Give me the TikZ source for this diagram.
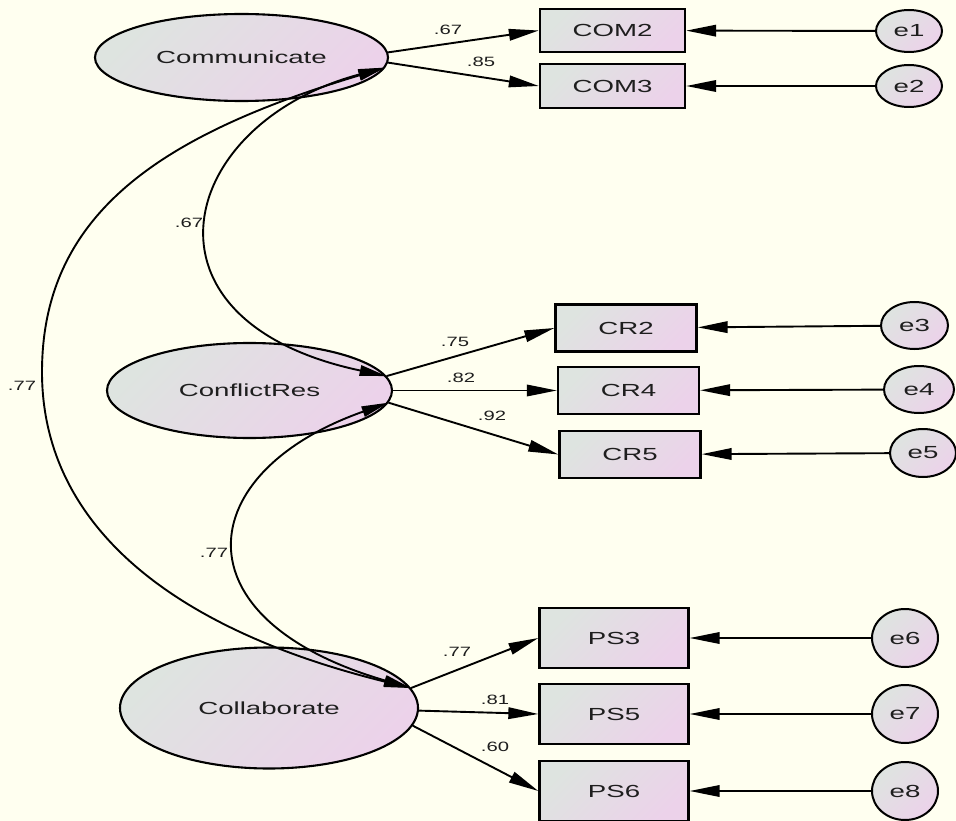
\documentclass[tikz,border=0pt]{standalone}
\usepackage{fontspec}
\setmainfont{Liberation Sans}
\usepackage{graphicx}
\usetikzlibrary{arrows.meta,shapes.geometric}

\definecolor{paper}{RGB}{255,255,240}
\definecolor{fillL}{RGB}{222,228,224}
\definecolor{fillR}{RGB}{236,210,234}
\definecolor{ink}{RGB}{30,30,30}

% horizontally widened text, as the model program prints it
\newcommand{\wtext}[2][1.58]{\scalebox{#1}[1]{#2}}

\begin{document}
\begin{tikzpicture}[x=1pt,y=-1pt,
  shaded/.style={left color=fillL, right color=fillR, shading angle=45,
    text=ink, font=\fontsize{17.5}{20}\selectfont},
  latent/.style={ellipse, draw, line width=2.1pt, inner sep=0pt, shaded},
  observed/.style={rectangle, draw, line width=2.3pt, inner sep=0pt, shaded},
  errvar/.style={ellipse, draw, line width=2pt, inner sep=0pt, shaded},
  regpath/.style={line width=1.9pt, -{Triangle[length=30pt,width=11.5pt]}},
  cov/.style={line width=1.9pt,
    {Triangle[length=27pt,width=10.5pt]}-{Triangle[length=27pt,width=10.5pt]}},
  coef/.style={font=\fontsize{13.5}{16}\selectfont, text=ink, inner sep=0pt}
]
% canvas
\fill[paper] (0,0) rectangle (956,821);
\useasboundingbox (0,0) rectangle (956,821);

% latent factors
\node[latent, minimum width=293pt, minimum height=87pt] (Com) at (241.5,57.5) {\wtext{Communicate}};
\node[latent, minimum width=285pt, minimum height=95pt] (CR) at (249.5,390.5) {\wtext{ConflictRes}};
\node[latent, minimum width=298pt, minimum height=121pt] (Col) at (269,708) {\wtext{Collaborate}};

% indicators
\node[observed, minimum width=145pt, minimum height=43pt] (COM2) at (612.5,30.5) {\wtext{COM2}};
\node[observed, minimum width=145pt, minimum height=44pt] (COM3) at (612.5,86) {\wtext{COM3}};
\node[observed, minimum width=141pt, minimum height=47pt] (CR2) at (626,328) {\wtext{CR2}};
\node[observed, minimum width=141pt, minimum height=47pt] (CR4) at (628.5,390.5) {\wtext{CR4}};
\node[observed, minimum width=141pt, minimum height=47pt] (CR5) at (630,454.5) {\wtext{CR5}};
\node[observed, minimum width=149pt, minimum height=60pt] (PS3) at (614,638) {\wtext{PS3}};
\node[observed, minimum width=149pt, minimum height=60pt] (PS5) at (614,714) {\wtext{PS5}};
\node[observed, minimum width=149pt, minimum height=60pt] (PS6) at (614,791) {\wtext{PS6}};

% error terms
\node[errvar, minimum width=66pt, minimum height=42pt] (e1) at (909,31) {\wtext{e1}};
\node[errvar, minimum width=66pt, minimum height=42pt] (e2) at (909,86) {\wtext{e2}};
\node[errvar, minimum width=67pt, minimum height=47pt] (e3) at (914.5,325.5) {\wtext{e3}};
\node[errvar, minimum width=70pt, minimum height=47pt] (e4) at (919,389.5) {\wtext{e4}};
\node[errvar, minimum width=66pt, minimum height=48pt] (e5) at (923,453) {\wtext{e5}};
\node[errvar, minimum width=66pt, minimum height=58pt] (e6) at (905,638) {\wtext{e6}};
\node[errvar, minimum width=66pt, minimum height=58pt] (e7) at (905,714) {\wtext{e7}};
\node[errvar, minimum width=66pt, minimum height=58pt] (e8) at (905,791) {\wtext{e8}};

% loadings
\draw[regpath] (Com.2) -- (COM2.west);
\draw[regpath] (Com.-2) -- (COM3.west);
\draw[regpath] (CR.6) -- (CR2.west);
\draw[regpath] (CR.0) -- (CR4.west);
\draw[regpath] (CR.-5) -- (CR5.west);
\draw[regpath] (Col.8) -- (PS3.west);
\draw[regpath] (Col.-1) -- (PS5.west);
\draw[regpath] (Col.-7) -- (PS6.west);

% error paths
\foreach \e/\v in {e1/COM2, e2/COM3, e3/CR2, e4/CR4, e5/CR5, e6/PS3, e7/PS5, e8/PS6}
  \draw[regpath] (\e) -- (\v);

% covariances between factors
\coordinate (bigW) at (42,372);
\draw[cov] (Com.-4) .. controls (177,123) and (126,321) .. (CR.6);
\draw[cov] (CR.-5) .. controls (192,472) and (174,619) .. (Col.8);
\draw[cov] (Com.-4) .. controls (163.9,134) and (42,212) .. (bigW)
                   .. controls (42,522) and (167,628) .. (Col.8);

% standardized estimates
\node[coef] (cCOM2) at (448,30) {\wtext[1.5]{.67}};
\node[coef] (cCOM3) at (481,62) {\wtext[1.5]{.85}};
\node[coef] (cCR2) at (455,342) {\wtext[1.5]{.75}};
\node[coef] (cCR4) at (461,378) {\wtext[1.5]{.82}};
\node[coef] (cCR5) at (492,416) {\wtext[1.5]{.92}};
\node[coef] (cPS3) at (457,652) {\wtext[1.5]{.77}};
\node[coef] (cPS5) at (495,700) {\wtext[1.5]{.81}};
\node[coef] (cPS6) at (495,747) {\wtext[1.5]{.60}};
\node[coef] (rComCR) at (189,223) {\wtext[1.5]{.67}};
\node[coef] (rComCol) at (22,386) {\wtext[1.5]{.77}};
\node[coef] (rCRCol) at (214,553) {\wtext[1.5]{.77}};
\end{tikzpicture}
\end{document}
